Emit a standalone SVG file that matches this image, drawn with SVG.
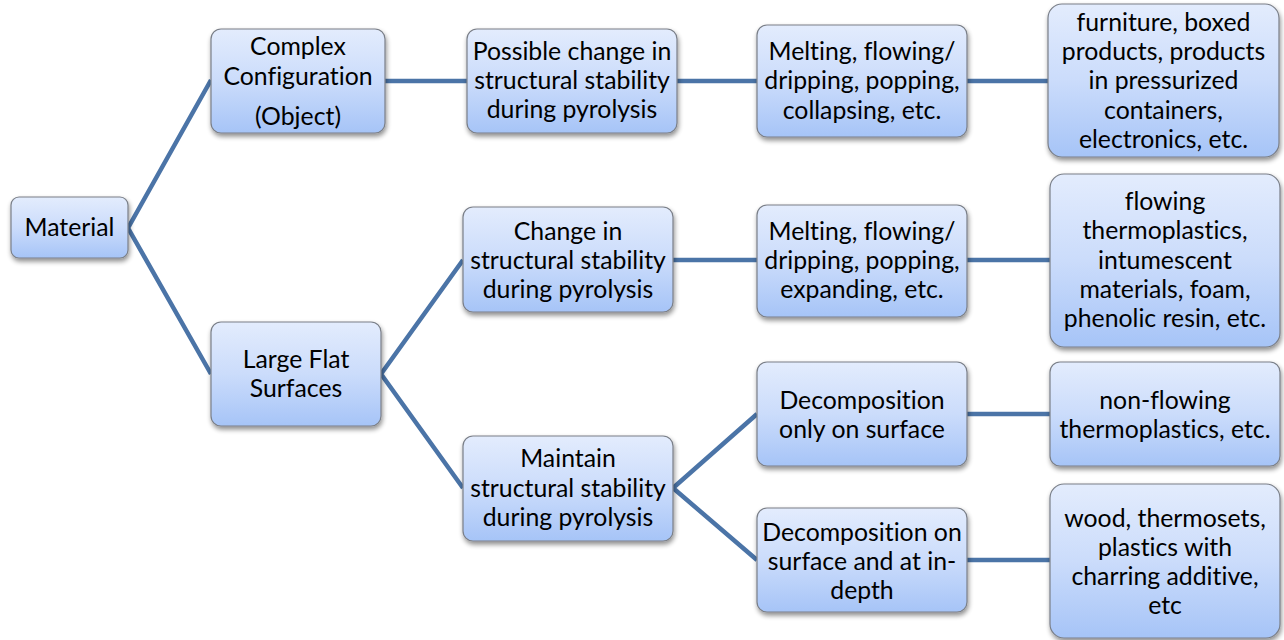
<svg xmlns="http://www.w3.org/2000/svg" width="1284" height="640" viewBox="0 0 1284 640">
<defs>
<linearGradient id="g" x1="0" y1="0" x2="0" y2="1">
<stop offset="0" stop-color="#e3ecfd"/>
<stop offset="0.5" stop-color="#cbdcfb"/>
<stop offset="1" stop-color="#a6c4f7"/>
</linearGradient>
<filter id="sh" x="-10%" y="-10%" width="125%" height="130%">
<feGaussianBlur in="SourceAlpha" stdDeviation="2.5"/>
<feOffset dx="1" dy="3" result="b"/>
<feComponentTransfer><feFuncA type="linear" slope="0.45"/></feComponentTransfer>
<feMerge><feMergeNode/><feMergeNode in="SourceGraphic"/></feMerge>
</filter>
</defs>
<style>
.n rect{fill:url(#g);stroke:#7a7f88;stroke-width:1.2;filter:url(#sh)}
.n text{font-family:Lato,"Open Sans","Liberation Sans",sans-serif;font-size:24.8px;fill:#000;text-anchor:middle;font-variant-ligatures:none;font-feature-settings:"liga" 0,"dlig" 0}
#connectors path{fill:none;stroke:#4b74a7;stroke-width:4.5}
</style>
<rect width="1284" height="640" fill="#fff"/>
<g id="connectors">
<path d="M128,228 L211,80 M128,228 L211,374"/>
<path d="M385,81 L467,81"/>
<path d="M677,81 L757,81"/>
<path d="M967,81 L1048,81"/>
<path d="M381,374 L463,260 M381,374 L463,488"/>
<path d="M673,260 L757,260"/>
<path d="M967,260 L1050,260"/>
<path d="M673,488 L757,414 M673,488 L757,560"/>
<path d="M967,414 L1050,414"/>
<path d="M967,560 L1050,560"/>
</g>
<g id="material" class="n"><rect x="11" y="197" width="117" height="61" rx="8"/><text x="69.5" y="236">Material</text></g>
<g id="complex" class="n"><rect x="211" y="29" width="174" height="104" rx="10"/><text x="298" y="55">Complex</text><text x="298" y="85">Configuration</text><text x="298" y="125">(Object)</text></g>
<g id="largeflat" class="n"><rect x="211" y="322" width="170" height="104" rx="10"/><text x="296" y="368">Large Flat</text><text x="296" y="397">Surfaces</text></g>
<g id="possiblechange" class="n"><rect x="467" y="29" width="210" height="104" rx="10"/><text x="572" y="60">Possible change in</text><text x="572" y="89">structural stability</text><text x="572" y="118">during pyrolysis</text></g>
<g id="changein" class="n"><rect x="463" y="207" width="210" height="105" rx="10"/><text x="568" y="240">Change in</text><text x="568" y="269">structural stability</text><text x="568" y="298">during pyrolysis</text></g>
<g id="maintain" class="n"><rect x="463" y="436" width="210" height="105" rx="10"/><text x="568" y="467">Maintain</text><text x="568" y="497">structural stability</text><text x="568" y="526">during pyrolysis</text></g>
<g id="melting1" class="n"><rect x="757" y="25" width="210" height="112" rx="10"/><text x="862" y="60">Melting, flowing/</text><text x="862" y="89">dripping, popping,</text><text x="862" y="119">collapsing, etc.</text></g>
<g id="melting2" class="n"><rect x="757" y="205" width="210" height="112" rx="10"/><text x="862" y="240">Melting, flowing/</text><text x="862" y="269">dripping, popping,</text><text x="862" y="298">expanding, etc.</text></g>
<g id="decomponly" class="n"><rect x="757" y="362" width="210" height="104" rx="10"/><text x="862" y="409">Decomposition</text><text x="862" y="438">only on surface</text></g>
<g id="decompdepth" class="n"><rect x="757" y="508" width="210" height="104" rx="10"/><text x="862" y="541">Decomposition on</text><text x="862" y="570">surface and at in-</text><text x="862" y="599">depth</text></g>
<g id="furniture" class="n"><rect x="1048" y="4" width="231" height="153" rx="14"/><text x="1163.5" y="31">furniture, boxed</text><text x="1163.5" y="60">products, products</text><text x="1163.5" y="89">in pressurized</text><text x="1163.5" y="119">containers,</text><text x="1163.5" y="148">electronics, etc.</text></g>
<g id="flowing" class="n"><rect x="1050" y="174" width="230" height="173" rx="14"/><text x="1165" y="210">flowing</text><text x="1165" y="239">thermoplastics,</text><text x="1165" y="269">intumescent</text><text x="1165" y="298">materials, foam,</text><text x="1165" y="327">phenolic resin, etc.</text></g>
<g id="nonflowing" class="n"><rect x="1050" y="362" width="230" height="104" rx="10"/><text x="1165" y="409">non-flowing</text><text x="1165" y="438">thermoplastics, etc.</text></g>
<g id="wood" class="n"><rect x="1050" y="484" width="230" height="154" rx="14"/><text x="1165" y="527">wood, thermosets,</text><text x="1165" y="556">plastics with</text><text x="1165" y="585">charring additive,</text><text x="1165" y="614">etc</text></g>
</svg>
